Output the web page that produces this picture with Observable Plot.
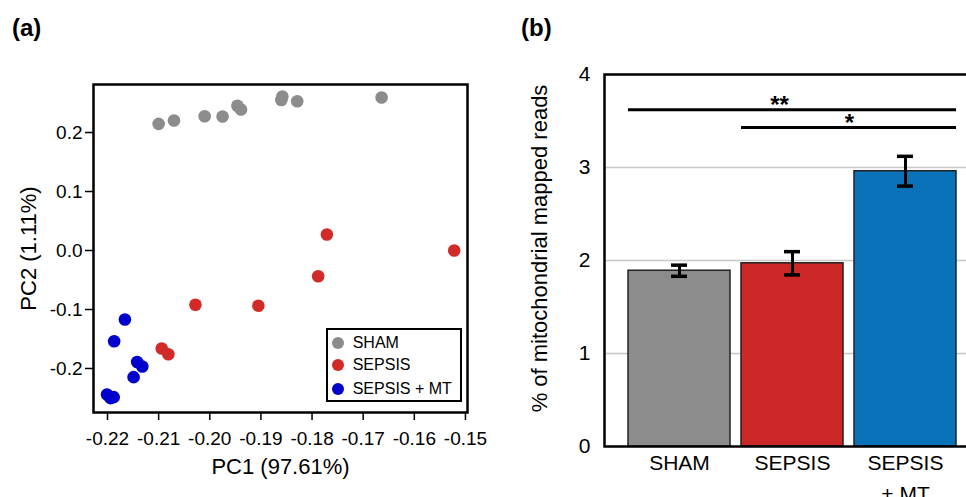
<!DOCTYPE html>
<html>
<head>
<meta charset="utf-8">
<script src="https://cdn.jsdelivr.net/npm/d3@7"></script>
<script src="https://cdn.jsdelivr.net/npm/@observablehq/plot@0.6"></script>
<style>
  html, body { margin: 0; padding: 0; background: #fff; overflow: hidden; width: 966px; height: 497px; }
  #wrap { position: relative; width: 966px; height: 497px; overflow: hidden; font-family: "Liberation Sans", Arial, sans-serif; color: #000; }
  #pa { position: absolute; left: 0; top: 0; }
  #pb { position: absolute; left: 483px; top: 0; }
  .plab { position: absolute; font-weight: bold; font-size: 24px; line-height: 24px; z-index: 2; }
  #legend { position: absolute; left: 326px; top: 328px; width: 132px; height: 70px; border: 2px solid #000; background: #fff; }
  .lrow { position: absolute; left: 0; height: 20px; line-height: 20px; font-size: 16px; white-space: nowrap; }
  .lsw { position: absolute; left: 4px; top: 4px; width: 12px; height: 12px; border-radius: 50%; }
  .ltx { position: absolute; left: 24.7px; top: 0; }
</style>
</head>
<body>
<div id="wrap">
  <div id="pa"></div>
  <div id="pb"></div>
  <div class="plab" style="left:12px; top:16px;">(a)</div>
  <div class="plab" style="left:521px; top:16px;">(b)</div>
  <div id="legend"></div>
</div>
<script>
// ---------- Panel (a): PCA ----------
const groups = ["SHAM", "SEPSIS", "SEPSIS + MT"];
const pcaColors = ["#8c8c8c", "#d22a27", "#0000cd"];

const shamPC1 = [-0.2100, -0.2070, -0.2010, -0.1975, -0.1946, -0.1939, -0.1858, -0.1860, -0.1829, -0.1664];
const shamPC2 = [0.2147, 0.2203, 0.2276, 0.2271, 0.2453, 0.2390, 0.2610, 0.2550, 0.2530, 0.2593];
const sepsisPC1 = [-0.1771, -0.1522, -0.1788, -0.2028, -0.1905, -0.2094, -0.2081];
const sepsisPC2 = [0.0271, 0.0000, -0.0436, -0.0920, -0.0937, -0.1660, -0.1758];
const mtPC1 = [-0.2166, -0.2187, -0.2142, -0.2132, -0.2149, -0.2201, -0.2194, -0.2188];
const mtPC2 = [-0.1170, -0.1537, -0.1890, -0.1966, -0.2147, -0.2440, -0.2503, -0.2486];

const pc1Ticks = [-0.22, -0.21, -0.20, -0.19, -0.18, -0.17, -0.16, -0.15];
const pc2Ticks = [-0.2, -0.1, 0.0, 0.1, 0.2];
const pc1Label = "PC1 (97.61%)";
const pc2Label = "PC2 (1.11%)";

// ---------- Panel (b): bars ----------
const conditions = ["SHAM", "SEPSIS", "SEPSIS + MT"];
const mitoPct = [1.89, 1.97, 2.96];
const mitoErr = [0.06, 0.125, 0.16];
const barColors = ["#8c8c8c", "#cc2828", "#0a72b8"];
const pctTicks = [0, 1, 2, 3, 4];
const gridVals = [1, 2, 3];
const barYLabel = "% of mitochondrial mapped reads";
const sigFrom = ["SHAM", "SEPSIS"];
const sigTo = ["SEPSIS + MT", "SEPSIS + MT"];
const sigLevel = [3.62, 3.43];
const sigText = ["**", "*"];

const FONT = '"Liberation Sans", Arial, sans-serif';

const points = [];
[[shamPC1, shamPC2], [sepsisPC1, sepsisPC2], [mtPC1, mtPC2]].forEach(([xs, ys], g) => {
  xs.forEach((x, i) => points.push({group: groups[g], pc1: x, pc2: ys[i]}));
});

const plotA = Plot.plot({
  width: 480, height: 497,
  marginLeft: 93, marginRight: 13, marginTop: 84, marginBottom: 85,
  style: {fontFamily: FONT, fontSize: "19px", color: "#000", background: "transparent", overflow: "visible", maxWidth: "none"},
  x: {domain: [-0.22274, -0.1496], label: null},
  y: {domain: [-0.2746, 0.2814], label: null},
  color: {domain: groups, range: pcaColors},
  marks: [
    Plot.axisX({ticks: pc1Ticks, tickSize: 8, tickPadding: 11, strokeWidth: 1.5, tickFormat: d => d.toFixed(2), label: null}),
    Plot.axisY({ticks: pc2Ticks, tickSize: 8, tickPadding: 3, strokeWidth: 1.5, tickFormat: d => d.toFixed(1), label: null}),
    Plot.dot(points, {x: "pc1", y: "pc2", fill: "group", r: 6.3, stroke: null}),
    Plot.frame({strokeWidth: 2.5}),
    Plot.text([pc1Label], {frameAnchor: "bottom", dy: 61, fontSize: 22, fill: "#000"}),
    Plot.text([pc2Label], {frameAnchor: "left", textAnchor: "middle", dx: -65, rotate: -90, fontSize: 22, fill: "#000"})
  ]
});
document.getElementById("pa").appendChild(plotA);

// Legend (HTML)
const legend = document.getElementById("legend");
const rowCenters = [12.7, 35, 59.3];
groups.forEach((g, i) => {
  const row = document.createElement("div");
  row.className = "lrow";
  row.style.top = (rowCenters[i] - 10) + "px";
  const sw = document.createElement("span");
  sw.className = "lsw";
  sw.style.background = pcaColors[i];
  const tx = document.createElement("span");
  tx.className = "ltx";
  tx.textContent = g;
  row.appendChild(sw); row.appendChild(tx);
  legend.appendChild(row);
});

// ---------- Panel (b) ----------
const bars = conditions.map((c, i) => ({cond: c, pct: mitoPct[i], err: mitoErr[i]}));
const sig = sigText.map((t, i) => ({from: sigFrom[i], to: sigTo[i], level: sigLevel[i], text: t}));

const plotB = Plot.plot({
  width: 500, height: 497,
  marginLeft: 121, marginRight: 4, marginTop: 74, marginBottom: 51,
  style: {fontFamily: FONT, fontSize: "21px", color: "#000", background: "transparent", overflow: "visible", maxWidth: "none"},
  x: {domain: conditions, paddingInner: 0.1, paddingOuter: 0.2, label: null},
  y: {domain: [0, 4], label: null},
  color: {domain: conditions, range: barColors},
  marks: [
    Plot.ruleY(gridVals, {stroke: "#c8c8c8", strokeWidth: 1.5}),
    Plot.barY(bars, {x: "cond", y: "pct", fill: "cond", stroke: "#222", strokeWidth: 1.5}),
    Plot.ruleX(bars, {x: "cond", y1: d => d.pct - d.err, y2: d => d.pct + d.err, strokeWidth: 3, stroke: "#000"}),
    Plot.tickY(bars, {x: "cond", y: d => d.pct - d.err, strokeWidth: 3.5, stroke: "#000", insetLeft: 43, insetRight: 43}),
    Plot.tickY(bars, {x: "cond", y: d => d.pct + d.err, strokeWidth: 3.5, stroke: "#000", insetLeft: 43, insetRight: 43}),
    Plot.ruleY(sig, {x1: "from", x2: "to", y: "level", strokeWidth: 3, stroke: "#000"}),
    Plot.text([sig[0]], {x: () => conditions[1], y: "level", text: "text", dx: -13, dy: 3, lineAnchor: "bottom", fontSize: 24, fontWeight: "bold", fill: "#000"}),
    Plot.text([sig[1]], {x: () => conditions[1], y: "level", text: "text", dx: 57, dy: 3, lineAnchor: "bottom", fontSize: 24, fontWeight: "bold", fill: "#000"}),
    Plot.axisY({ticks: pctTicks, tickSize: 0, tickPadding: 14, tickFormat: d => String(d), label: null}),
    Plot.axisX({tickSize: 0, tickPadding: 2, lineHeight: 1.45, tickFormat: d => d.replace(" + ", "\n+ "), label: null}),
    Plot.frame({strokeWidth: 2.5}),
    Plot.text([barYLabel], {frameAnchor: "left", textAnchor: "middle", dx: -65, dy: -12, rotate: -90, fontSize: 22, fill: "#000"})
  ]
});
document.getElementById("pb").appendChild(plotB);
</script>
</body>
</html>
